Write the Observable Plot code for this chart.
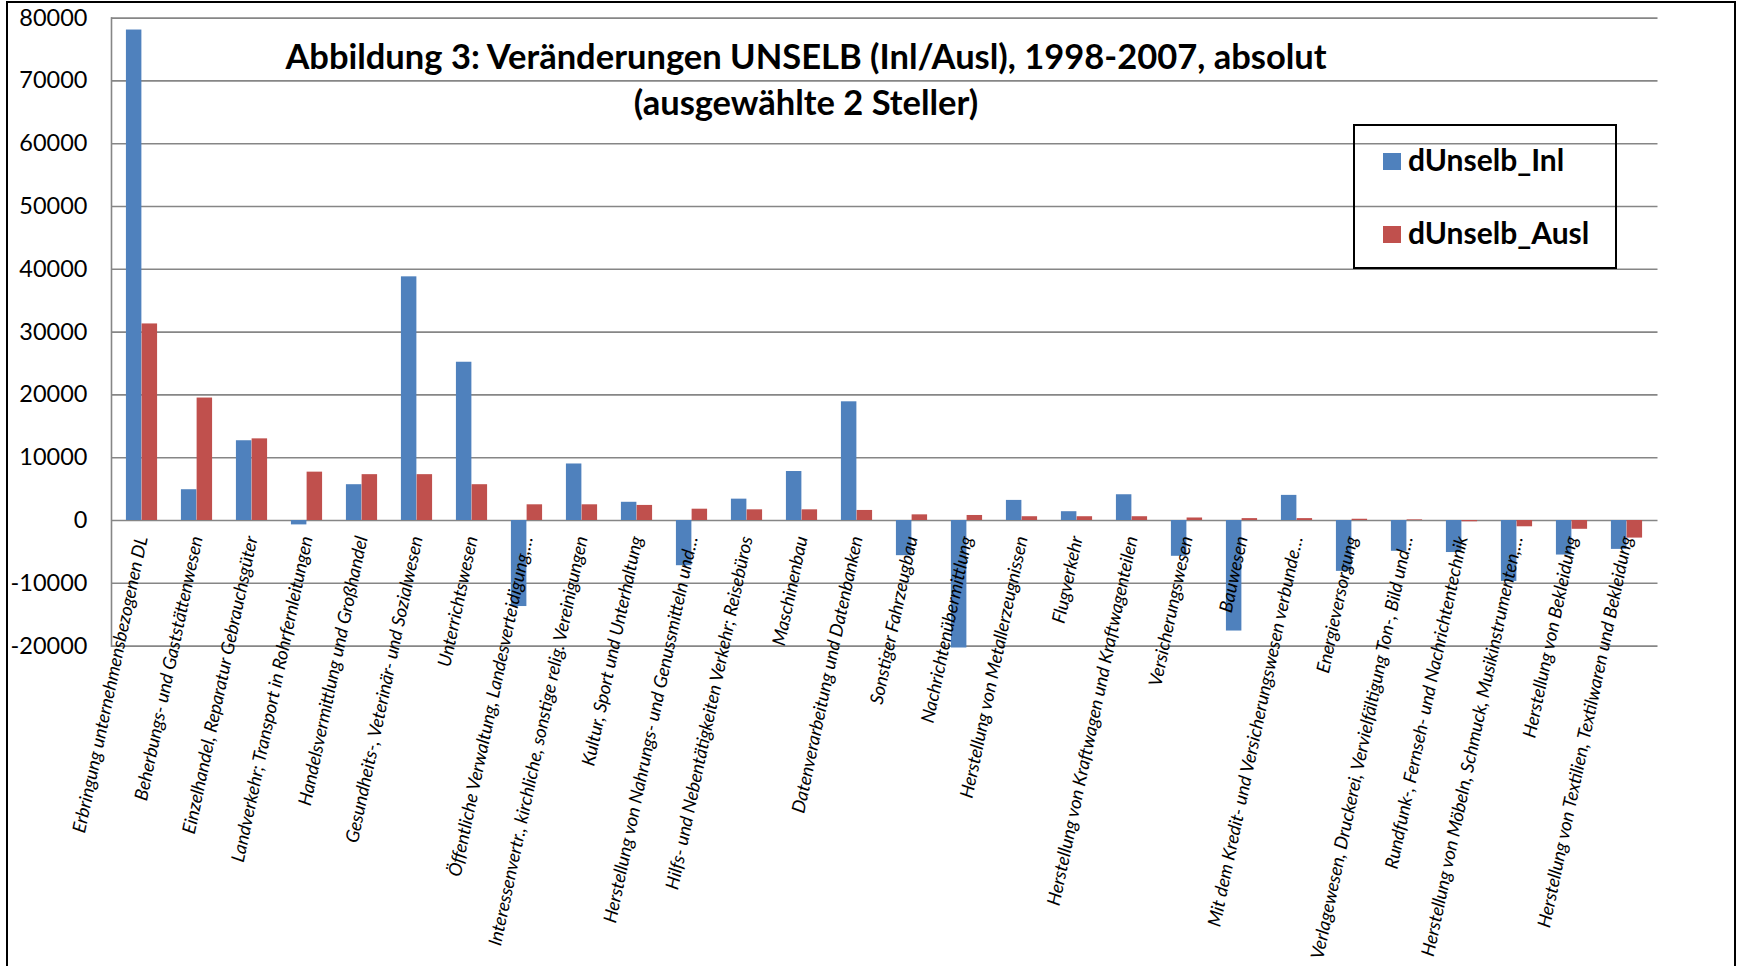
<!DOCTYPE html>
<html><head><meta charset="utf-8">
<script src="https://cdn.jsdelivr.net/npm/d3@7"></script>
<script src="https://cdn.jsdelivr.net/npm/@observablehq/plot@0.6"></script>
<style>
body{margin:0;background:#fff;overflow:hidden;font-family:Lato,"Open Sans",sans-serif;}
#wrap{position:relative;width:1738px;height:966px;overflow:hidden;background:#fff;}
#chart{position:absolute;left:0;top:0;}
#frame{position:absolute;left:6px;top:1px;width:1730px;height:1000px;border:2px solid #000;box-sizing:border-box;pointer-events:none;}
#title{position:absolute;left:0;width:1612px;top:33px;text-align:center;font-weight:bold;font-size:34.5px;line-height:46px;color:#000;}
#legend{position:absolute;left:1353px;top:124px;width:264px;height:145px;border:2px solid #000;box-sizing:border-box;}
.li{position:absolute;left:28px;font-weight:bold;font-size:30px;line-height:30px;color:#000;white-space:nowrap;}
.sw{display:inline-block;width:18px;height:17px;margin-right:7px;vertical-align:1px;}
</style>
</head><body>
<div id="wrap">
  <div id="chart"></div>
  <div id="title"></div>
  <div id="legend"></div>
  <div id="frame"></div>
</div>
<script>
const categories = [
  "Erbringung unternehmensbezogenen DL",
  "Beherbungs- und Gaststättenwesen",
  "Einzelhandel, Reparatur Gebrauchsgüter",
  "Landverkehr; Transport in Rohrfernleitungen",
  "Handelsvermittlung und Großhandel",
  "Gesundheits-, Veterinär- und Sozialwesen",
  "Unterrichtswesen",
  "Öffentliche Verwaltung, Landesverteidigung,…",
  "Interessenvertr., kirchliche, sonstige relig. Vereinigungen",
  "Kultur, Sport und Unterhaltung",
  "Herstellung von Nahrungs- und Genussmitteln und…",
  "Hilfs- und Nebentätigkeiten Verkehr; Reisebüros",
  "Maschinenbau",
  "Datenverarbeitung und Datenbanken",
  "Sonstiger Fahrzeugbau",
  "Nachrichtenübermittlung",
  "Herstellung von Metallerzeugnissen",
  "Flugverkehr",
  "Herstellung von Kraftwagen und Kraftwagenteilen",
  "Versicherungswesen",
  "Bauwesen",
  "Mit dem Kredit- und Versicherungswesen verbunde…",
  "Energieversorgung",
  "Verlagewesen, Druckerei, Vervielfältigung Ton-, Bild und…",
  "Rundfunk-, Fernseh- und Nachrichtentechnik",
  "Herstellung von Möbeln, Schmuck, Musikinstrumenten,…",
  "Herstellung von Bekleidung",
  "Herstellung von Textilien, Textilwaren und Bekleidung"
];
const dUnselbInl = [78100, 4900, 12700, -700, 5700, 38800, 25200, -13700, 9000, 2900, -7200, 3400, 7800, 18900, -5600, -20300, 3200, 1400, 4100, -5700, -17600, 4000, -8100, -4900, -5100, -9700, -5500, -4600];
const dUnselbAusl = [31300, 19500, 13000, 7700, 7300, 7300, 5700, 2500, 2500, 2400, 1800, 1700, 1700, 1600, 900, 800, 600, 600, 600, 400, 300, 300, 200, 100, -200, -1000, -1400, -2800];
const yTicks = [-20000, -10000, 0, 10000, 20000, 30000, 40000, 50000, 60000, 70000, 80000];
const seriesNames = ["dUnselb_Inl", "dUnselb_Ausl"];
const seriesColors = ["#4F81BD", "#C0504D"];
const titleLines = ["Abbildung 3: Veränderungen UNSELB (Inl/Ausl), 1998-2007, absolut", "(ausgewählte 2 Steller)"];

const rows = categories.map((c, i) => ({cat: c, inl: dUnselbInl[i], ausl: dUnselbAusl[i]}));

const W = 1738, H = 966;
const mL = 111, mR = 80.5, mT = 17.6, mB = 320.4;
const bw = (W - mL - mR) / categories.length;
const barW = 15.7;
const gridColor = "#868686";

const chart = Plot.plot({
  width: W, height: H,
  marginLeft: mL, marginRight: mR, marginTop: mT, marginBottom: mB,
  style: {background: "transparent", fontFamily: "Lato, 'Open Sans', sans-serif"},
  x: {type: "band", domain: categories, padding: 0, axis: null},
  y: {domain: [-20000, 80000], axis: null},
  marks: [
    Plot.ruleY(yTicks, {stroke: gridColor, strokeWidth: 1.6}),
    Plot.frame({anchor: "left", stroke: gridColor, strokeWidth: 1.6}),
    Plot.axisY({ticks: yTicks, tickSize: 0, tickPadding: 24, fontSize: 23.5, color: "#000", tickFormat: d => String(d), label: null}),
    Plot.barY(rows, {x: "cat", y: "inl", fill: seriesColors[0], insetLeft: bw / 2 - barW, insetRight: bw / 2}),
    Plot.barY(rows, {x: "cat", y: "ausl", fill: seriesColors[1], insetLeft: bw / 2, insetRight: bw / 2 - barW}),
    Plot.text(categories, {x: d => d, y: () => 0, text: d => d, rotate: -78, textAnchor: "end", lineAnchor: "middle", dy: 16, fontSize: 18.3, fontStyle: "italic", fill: "#000"})
  ]
});
document.getElementById("chart").appendChild(chart);

document.getElementById("title").innerHTML = titleLines.join("<br>");
const lg = document.getElementById("legend");
seriesNames.forEach((n, i) => {
  const d = document.createElement("div");
  d.className = "li";
  d.style.top = (i === 0 ? 18 : 91) + "px";
  d.innerHTML = `<span class="sw" style="background:${seriesColors[i]}"></span>${n}`;
  lg.appendChild(d);
});
</script>
</body></html>
